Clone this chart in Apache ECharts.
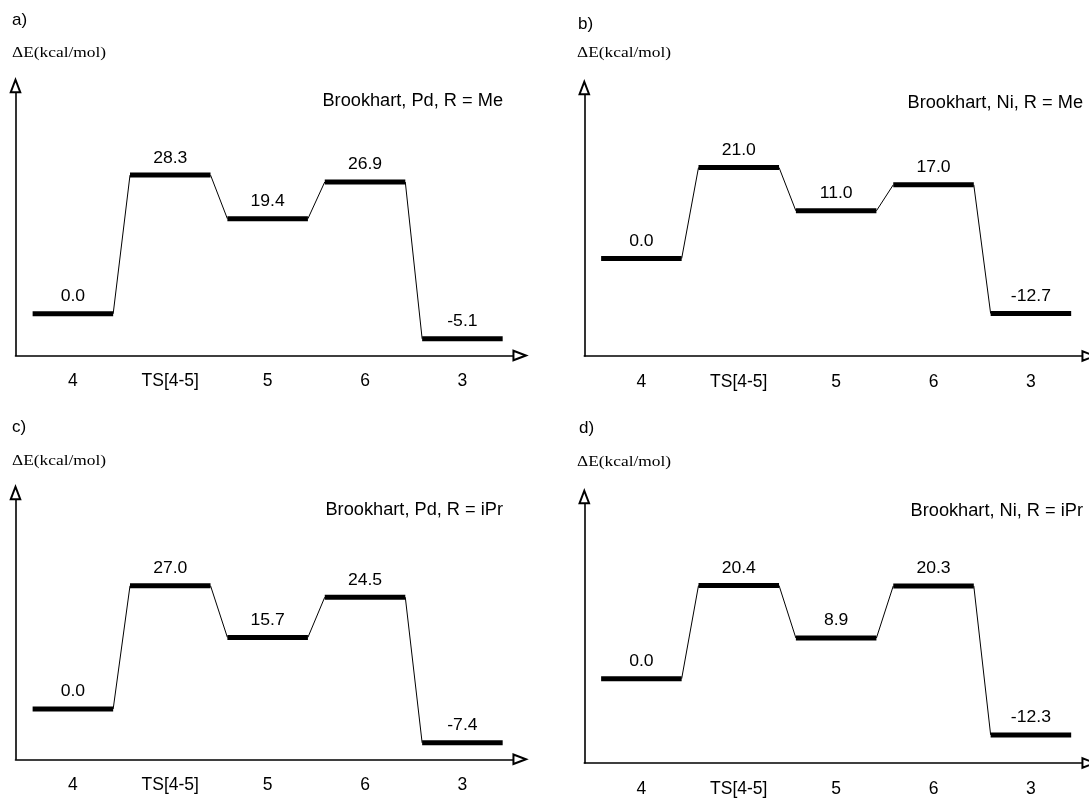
<!DOCTYPE html>
<html>
<head>
<meta charset="utf-8">
<title>Brookhart energy profiles</title>
<script src="https://cdn.jsdelivr.net/npm/echarts@6/dist/echarts.min.js"></script>
<style>
  html, body { margin: 0; padding: 0; background: #fff; }
  #chart { width: 1089px; height: 798px; }
</style>
</head>
<body>
<div id="chart"></div>
<script>
// species along the reaction coordinate
const species = ['4', 'TS[4-5]', '5', '6', '3']

// relative energies (kcal/mol), one array per panel
const pdMe = [0.0, 28.3, 19.4, 26.9, -5.1]
const niMe = [0.0, 21.0, 11.0, 17.0, -12.7]
const pdIPr = [0.0, 27.0, 15.7, 24.5, -7.4]
const niIPr = [0.0, 20.4, 8.9, 20.3, -12.3]

const panelTags = ['a)', 'b)', 'c)', 'd)']
const panelNames = ['Brookhart, Pd, R = Me', 'Brookhart, Ni, R = Me', 'Brookhart, Pd, R = iPr', 'Brookhart, Ni, R = iPr']
const yTitle = 'ΔE(kcal/mol)'

// where each panel sits (pixels) and how much energy range its y axis spans
const panels = [
  { energies: pdMe,  axisX: 15.5,  dataLeft: 24.2,  tipY: 80,    arrowTop: 86,  arrowRight: 519.7,  axisY: 355.5, yMin: -8.5,  yMax: 47.7,
    tagX: 12, tagY: 20, titleX: 12, titleY: 53, nameX: 503, nameY: 100.7 },
  { energies: niMe,  axisX: 584.3, dataLeft: 592.7, tipY: 81.7,  arrowTop: 88,  arrowRight: 1088.7, axisY: 356,   yMin: -22.5, yMax: 40.8,
    tagX: 578, tagY: 24, titleX: 577, titleY: 53, nameX: 1083, nameY: 103 },
  { energies: pdIPr, axisX: 15.5,  dataLeft: 24.2,  tipY: 486,   arrowTop: 493, arrowRight: 519.7,  axisY: 759.3, yMin: -11.0, yMax: 48.85,
    tagX: 12, tagY: 427, titleX: 12, titleY: 461, nameX: 503, nameY: 510 },
  { energies: niIPr, axisX: 584.3, dataLeft: 592.7, tipY: 490,   arrowTop: 497, arrowRight: 1088.7, axisY: 763,   yMin: -18.45, yMax: 41.3,
    tagX: 579, tagY: 428, titleX: 577, titleY: 461.7, nameX: 1083, nameY: 511 }
]

const SANS = '"Liberation Sans", Arial, Helvetica, sans-serif'
const SERIF = '"Liberation Serif", "Times New Roman", serif'

// one level bar + its value + the thin connector to the next level
function renderLevel(params, api) {
  const i = api.value(0)
  const e = api.value(1)
  const next = api.value(2)
  const p = api.coord([i, e])
  const half = api.size([1, 0])[0] * 0.827 / 2
  const children = [
    { type: 'line', shape: { x1: p[0] - half, y1: p[1], x2: p[0] + half, y2: p[1] },
      style: { stroke: '#000', lineWidth: 5 } },
    { type: 'text', x: p[0], y: p[1] - 17, scaleX: 1.1,
      style: { text: e.toFixed(1), font: '16px ' + SANS, fill: '#000', align: 'center', verticalAlign: 'middle' } }
  ]
  if (!isNaN(next)) {
    const q = api.coord([i + 1, next])
    children.push({ type: 'line', shape: { x1: p[0] + half, y1: p[1], x2: q[0] - half, y2: q[1] },
      style: { stroke: '#000', lineWidth: 1 } })
  }
  return { type: 'group', children }
}

const grid = [], xAxis = [], yAxis = [], series = [], graphic = []

const arrowLine = {
  show: true,
  onZero: false,
  symbol: ['none', 'emptyTriangle'],
  symbolSize: [9.5, 12.5],
  lineStyle: { color: '#000', width: 1.6 }
}

panels.forEach((p, k) => {
  // frame grid: only the two arrowed axis lines
  grid.push({ left: p.axisX, top: p.arrowTop, width: p.arrowRight - p.axisX, height: p.axisY - p.arrowTop })
  xAxis.push({ gridIndex: 2 * k, type: 'value', min: 0, max: 1, axisLine: arrowLine,
    axisTick: { show: false }, axisLabel: { show: false }, splitLine: { show: false } })
  yAxis.push({ gridIndex: 2 * k, type: 'value', min: 0, max: 1, axisLine: arrowLine,
    axisTick: { show: false }, axisLabel: { show: false }, splitLine: { show: false } })

  // data grid: categories along x, energy along y
  grid.push({ left: p.dataLeft, top: p.tipY, width: 486.9, height: p.axisY - p.tipY })
  xAxis.push({ gridIndex: 2 * k + 1, type: 'category', data: species, boundaryGap: true,
    axisLine: { show: false }, axisTick: { show: false }, splitLine: { show: false },
    axisLabel: { color: '#000', fontSize: 17.5, fontFamily: SANS, margin: 17, interval: 0 } })
  yAxis.push({ gridIndex: 2 * k + 1, type: 'value', min: p.yMin, max: p.yMax, show: false })

  series.push({
    type: 'custom',
    xAxisIndex: 2 * k + 1,
    yAxisIndex: 2 * k + 1,
    renderItem: renderLevel,
    data: p.energies.map((e, i) => [i, e, i < p.energies.length - 1 ? p.energies[i + 1] : '-']),
    silent: true
  })

  graphic.push(
    { type: 'text', x: p.tagX, y: p.tagY,
      style: { text: panelTags[k], font: '17px ' + SANS, fill: '#000', align: 'left', verticalAlign: 'middle' } },
    { type: 'text', x: p.titleX, y: p.titleY, scaleX: 1.12,
      style: { text: yTitle, font: '15.5px ' + SERIF, fill: '#000', align: 'left', verticalAlign: 'middle' } },
    { type: 'text', x: p.nameX, y: p.nameY, scaleX: 1.04,
      style: { text: panelNames[k], font: '17.5px ' + SANS, fill: '#000', align: 'right', verticalAlign: 'middle' } }
  )
})

const chart = echarts.init(document.getElementById('chart'))
chart.setOption({
  animation: false,
  backgroundColor: '#fff',
  grid,
  xAxis,
  yAxis,
  series,
  graphic
})
</script>
</body>
</html>
